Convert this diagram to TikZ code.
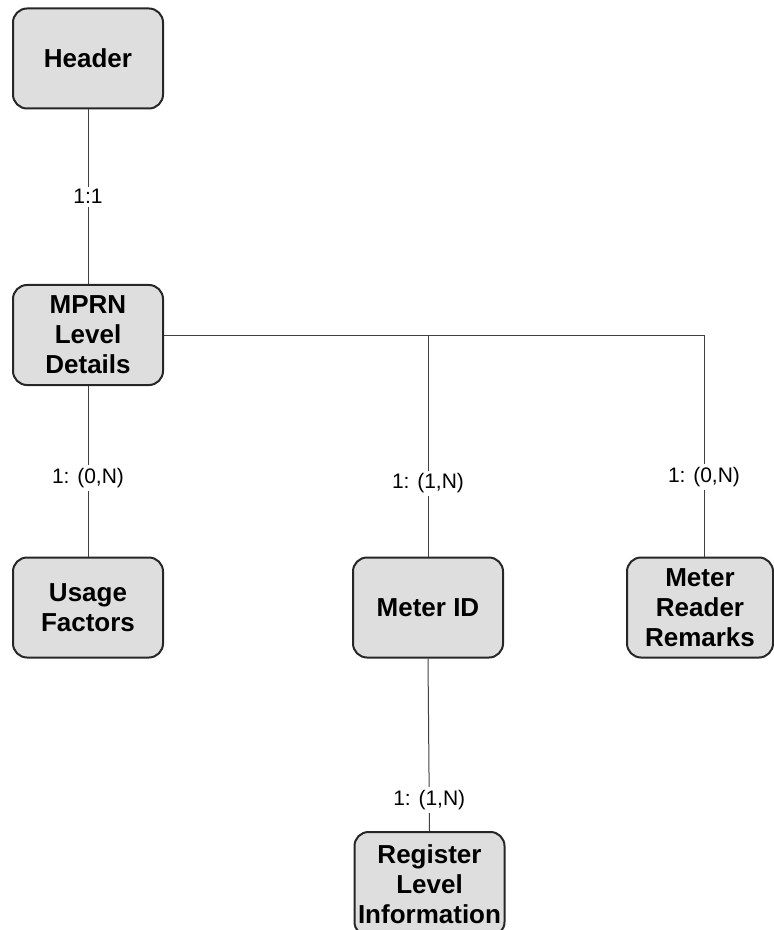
\documentclass[tikz,border=0pt]{standalone}
\usepackage{fontspec}
\setmainfont{Liberation Sans}
\usetikzlibrary{positioning}

\begin{document}
\begin{tikzpicture}[x=0.5pt,y=-0.5pt,
 entity/.style={rectangle,rounded corners=7pt,draw=black!85,line width=1pt,fill=black!13,
  minimum width=75pt,minimum height=50pt,align=center,inner sep=0pt,
  font=\fontsize{13}{15}\selectfont\bfseries},
 card/.style={fill=white,inner sep=1.5pt,font=\fontsize{10.5}{12}\selectfont},
 link/.style={draw=black!75,line width=0.5pt}]
  \clip (0,0) rectangle (774,930);
  \node[entity] (header) at (88,58.5) {Header};
  \node[entity] (mprn) at (88,335) {MPRN\\Level\\Details};
  \node[entity] (usage) at (88,607.5) {Usage\\Factors};
  \node[entity] (meterid) at (428,607.5) {Meter ID};
  \node[entity,minimum width=73pt] (remarks) at (700,607.5) {Meter\\Reader\\Remarks};
  \node[entity,minimum height=52pt] (register) at (429.5,884) {Register\\Level\\Information};
  \coordinate (rmtop) at (704,557);

  \foreach \s/\t/\p/\l in {header/mprn/0.5/{1:1}, mprn/usage/0.54/{1: (0,N)},
    meterid/register/0.82/{1: (1,N)}} {
   \path[link] (\s.south) -- node[card,pos=\p] {\l} (\t.north);}
  \path[link] (mprn.east) -- (rmtop |- mprn.east) -- node[card,pos=0.64] {1: (0,N)} (rmtop);
  \path[link] (mprn.east -| meterid.north) -- node[card,pos=0.67] {1: (1,N)} (meterid.north);
\end{tikzpicture}
\end{document}
